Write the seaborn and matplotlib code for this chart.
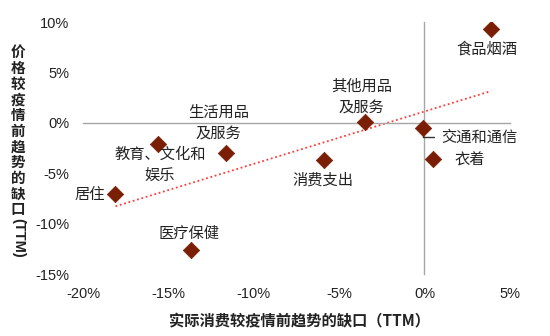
import matplotlib
matplotlib.use("Agg")
import matplotlib.pyplot as plt
import matplotlib.ticker as mticker
import numpy as np
import pandas as pd
import seaborn as sns

sns.set_style("white")
plt.rcParams["font.family"] = ["Noto Sans CJK SC", "DejaVu Sans"]

# Gap vs. pre-pandemic trend, trailing twelve months, in percent
categories = ["食品烟酒", "其他用品及服务", "交通和通信", "衣着", "消费支出",
              "生活用品及服务", "教育、文化和娱乐", "居住", "医疗保健"]
consumption_gap = [3.9, -3.5, -0.1, 0.5, -5.9, -11.6, -15.6, -18.1, -13.7]
price_gap = [9.3, 0.1, -0.5, -3.6, -3.7, -3.0, -2.1, -7.1, -12.6]

x_ticks = [-20, -15, -10, -5, 0, 5]
y_ticks = [-15, -10, -5, 0, 5, 10]

df = pd.DataFrame({"category": categories, "consumption": consumption_gap, "price": price_gap})

marker_color = "#7A1F05"
axis_color = "#A6A6A6"
text_color = "#222222"

fig = plt.figure(figsize=(5.5, 3.36), dpi=100)
rect = [0.151, 0.1845, 0.776, 0.75]
ax = fig.add_axes(rect)

# Linear trend across all categories
sns.regplot(data=df, x="consumption", y="price", scatter=False, ci=None, truncate=True,
            line_kws=dict(color="#FF3B3B", ls=(0, (1, 1.5)), lw=1.3), ax=ax)
sns.scatterplot(data=df, x="consumption", y="price", marker="D", s=70,
                color=marker_color, edgecolor=marker_color, linewidth=0.5, zorder=5, ax=ax)

ax.set_xlim(-20, 5)
ax.set_ylim(-15, 10)
ax.set_xticks(x_ticks)
ax.set_yticks(y_ticks)
ax.set_xlabel("")
ax.set_ylabel("")
for side in ("top", "right"):
    ax.spines[side].set_visible(False)
for side in ("left", "bottom"):
    ax.spines[side].set_position(("data", 0))
    ax.spines[side].set_color(axis_color)
    ax.spines[side].set_linewidth(1.0)
ax.tick_params(direction="out", length=4, width=1.0, color=axis_color,
               labelleft=False, labelbottom=False)

# Tick labels sit at the outer edges of the plotting area
lab = fig.add_axes(rect, sharex=ax, sharey=ax)
lab.patch.set_visible(False)
for s in lab.spines.values():
    s.set_visible(False)
lab.tick_params(length=0, labelsize=10.5, labelcolor=text_color, pad=10)
lab.tick_params(axis="x", pad=9)
pct = mticker.FuncFormatter(lambda v, _: f"{v:.0f}%")
lab.xaxis.set_major_formatter(pct)
lab.yaxis.set_major_formatter(pct)
for t in lab.get_xticklabels() + lab.get_yticklabels():
    t.set_fontfamily(["Liberation Sans", "DejaVu Sans"])
lab.grid(False)

# Category labels
label_pos = {
    "食品烟酒": (3.65, 7.3, "center", "食品烟酒"),
    "其他用品及服务": (-3.7, 2.6, "center", "其他用品\n及服务"),
    "交通和通信": (1.0, -1.4, "left", "交通和通信"),
    "衣着": (1.76, -3.7, "left", "衣着"),
    "消费支出": (-5.95, -5.65, "center", "消费支出"),
    "生活用品及服务": (-12.06, 0.0, "center", "生活用品\n及服务"),
    "教育、文化和娱乐": (-15.5, -4.2, "center", "教育、文化和\n娱乐"),
    "居住": (-19.6, -7.15, "center", "居住"),
    "医疗保健": (-13.8, -11.0, "center", "医疗保健"),
}
for name in categories:
    tx, ty, ha, txt = label_pos[name]
    ax.text(tx, ty, txt, ha=ha, va="center", fontsize=11, color=text_color,
            linespacing=1.3, multialignment="center", zorder=6)

# Leader line for the label set beside the vertical axis
i = categories.index("交通和通信")
ax.annotate("", xy=(consumption_gap[i], price_gap[i]), xytext=(0.55, -1.4),
            arrowprops=dict(arrowstyle="-", color="#333333", lw=1.0, shrinkA=0, shrinkB=0,
                            connectionstyle="angle,angleA=0,angleB=90,rad=0"),
            zorder=4)

# Axis titles
fig.text(300 / 550, 1 - 321 / 336, "实际消费较疫情前趋势的缺口（TTM）", ha="center", va="center",
         fontsize=11, fontweight="bold", color=text_color)
ylab = fig.text(18 / 550, 1 - 44 / 336, "\n".join("价格较疫情前趋势的缺口"), ha="center", va="top",
                fontsize=10.5, fontweight="bold", color=text_color, linespacing=0.98)
fig.canvas.draw()
bb = ylab.get_window_extent()
fig.text(18 / 550, (bb.y0 - 1) / fig.bbox.height, "(TTM)", ha="center", va="top", rotation=270,
         fontsize=10.5, fontweight="bold", color=text_color,
         family=["Liberation Sans", "DejaVu Sans"])

fig.savefig("out.png", dpi=100)
